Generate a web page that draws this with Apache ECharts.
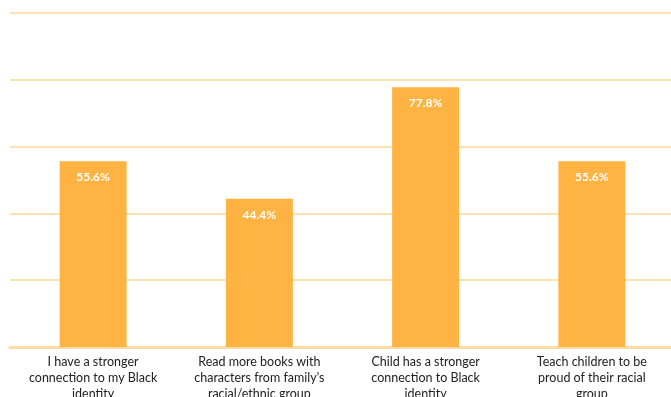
<!DOCTYPE html>
<html><head><meta charset="utf-8">
<script src="https://cdn.jsdelivr.net/npm/echarts@6/dist/echarts.min.js"></script>
<style>html,body{margin:0;padding:0;background:#fff}#c{width:671px;height:397px}</style>
</head><body><div id="c"></div>
<script>
const categories = [
  "I have a stronger\nconnection to my Black\nidentity",
  "Read more books with\ncharacters from family's\nracial/ethnic group",
  "Child has a stronger\nconnection to Black\nidentity",
  "Teach children to be\nproud of their racial\ngroup"
];
const values = [55.6, 44.4, 77.8, 55.6];
const chart = echarts.init(document.getElementById('c'));
chart.setOption({
  animation: false,
  grid: {left: 10, right: -4, top: 13, bottom: 50, containLabel: false, outerBoundsMode: 'none'},
  xAxis: {
    type: 'category', data: categories,
    axisTick: {show: false},
    axisLine: {lineStyle: {color: '#FDDBA3', width: 3}},
    axisLabel: {color: '#222', fontFamily: 'Lato', fontSize: 12.5, lineHeight: 16, margin: 7, interval: 0}
  },
  yAxis: {
    type: 'value', min: 0, max: 100, interval: 20,
    axisLabel: {show: false}, axisLine: {show: false}, axisTick: {show: false},
    splitLine: {lineStyle: {color: '#FDE2B4', width: 2}}
  },
  series: [{
    type: 'bar', data: values, barWidth: 67,
    itemStyle: {color: '#FFB342'},
    label: {show: true, position: 'insideTop', distance: 10, color: '#fff', fontWeight: 'bold',
      fontFamily: 'Lato', fontSize: 12, formatter: p => p.value.toFixed(1) + '%'}
  }]
});
</script></body></html>
